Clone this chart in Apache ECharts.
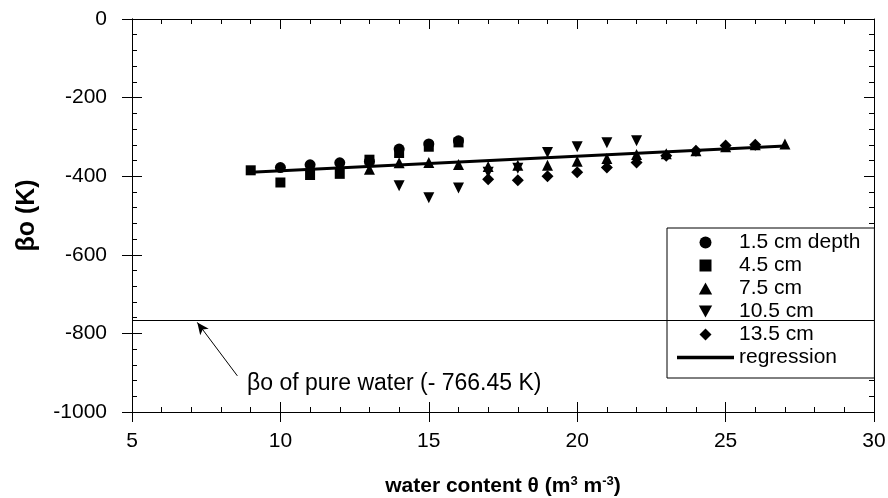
<!DOCTYPE html>
<html>
<head>
<meta charset="utf-8">
<script src="https://cdn.jsdelivr.net/npm/echarts@6/dist/echarts.min.js"></script>
<style>
  html, body { margin: 0; padding: 0; background: #fff; }
  #chart { width: 888px; height: 498px; }
</style>
</head>
<body>
<div id="chart"></div>
<script>
// values (x = water content, y = beta-o in K)
const depth15 = [[10, -378], [11, -371], [12, -366], [13, -362], [14, -331], [15, -318], [16, -310]]
const depth45 = [[9, -385], [10, -416], [11, -397], [12, -394], [13, -358], [14, -341], [15, -325], [16, -314]]
const depth75 = [[13, -382], [14, -366], [15, -365], [16, -370], [17, -375], [18, -372], [19, -372], [20, -362],
  [21, -355], [22, -345], [23, -343], [24, -335], [25, -325], [26, -320], [27, -318]]
const depth105 = [[14, -424], [15, -455], [16, -430], [17, -390], [18, -380], [19, -340], [20, -325], [21, -315], [22, -310]]
const depth135 = [[17, -408], [18, -410], [19, -400], [20, -390], [21, -378], [22, -365], [23, -348], [24, -335],
  [25, -322], [26, -320]]
const regression = [[9, -390], [27, -323]]
const pureWater = -766.45
const arrowFrom = [8.55, -908]
const arrowTo = [7.2, -772]

const font = 'Arial, "Liberation Sans", sans-serif'
const black = '#000'

// marker shapes as paths so legend icons keep their aspect
const SQUARE = 'path://M0,0 H10 V10 H0 Z'
const TRI_UP = 'path://M5,0 L10,9 L0,9 Z'
const TRI_DOWN = 'path://M0,0 L10,0 L5,9 Z'
const DIAMOND = 'path://M5,0 L10,5 L5,10 L0,5 Z'
const BAR = 'path://M0,0 H50 V3 H0 Z'

const chart = echarts.init(document.getElementById('chart'))

function scatter(name, data, symbol, size) {
  return {
    name: name,
    type: 'scatter',
    data: data,
    symbol: symbol,
    symbolSize: size,
    itemStyle: { color: black, opacity: 1 },
    z: 3
  }
}

// axis helpers: same scale, different tick looks, to mimic crossing ticks + mirrored frame
function xAx(extra) {
  return Object.assign({
    type: 'value', min: 5, max: 30, interval: 5,
    axisLine: { show: true, onZero: false, lineStyle: { color: black, width: 1 } },
    splitLine: { show: false },
    axisLabel: { show: false }
  }, extra)
}
function yAx(extra) {
  return Object.assign({
    type: 'value', min: -1000, max: 0, interval: 200,
    axisLine: { show: true, onZero: false, lineStyle: { color: black, width: 1 } },
    splitLine: { show: false },
    axisLabel: { show: false }
  }, extra)
}

const option = {
  backgroundColor: '#fff',
  animation: false,
  textStyle: { fontFamily: font },
  grid: { left: 132, right: 14, top: 19, bottom: 86, outerBoundsMode: 'none', containLabel: false },
  xAxis: [
    xAx({
      position: 'bottom',
      axisTick: { show: true, inside: false, length: 10, lineStyle: { color: black } },
      axisLabel: { show: true, color: black, fontSize: 21, fontFamily: font, margin: 19 },
      name: 'water content θ (m{sup|3} m{sup|-3})',
      nameLocation: 'middle',
      nameGap: 63,
      nameTextStyle: {
        color: black, fontSize: 21, fontWeight: 'bold', fontFamily: font,
        rich: { sup: { fontSize: 13, fontWeight: 'bold', verticalAlign: 'top', padding: [0, 0, 10, 0] } }
      }
    }),
    xAx({
      position: 'bottom',
      axisTick: { show: true, inside: true, length: 10, lineStyle: { color: black } },
      minorTick: { show: true, splitNumber: 5, length: 5, lineStyle: { color: black } }
    }),
    xAx({
      position: 'top',
      axisTick: { show: true, inside: true, length: 10, lineStyle: { color: black } },
      minorTick: { show: true, splitNumber: 5, length: 5, lineStyle: { color: black } }
    })
  ],
  yAxis: [
    yAx({
      position: 'left',
      axisTick: { show: true, inside: false, length: 10, lineStyle: { color: black } },
      axisLabel: { show: true, color: black, fontSize: 21, fontFamily: font, margin: 25,
        formatter: v => String(v) },
      name: 'βo (K)',
      nameLocation: 'middle',
      nameGap: 92,
      nameTextStyle: { color: black, fontSize: 25, fontWeight: 'bold', fontFamily: font }
    }),
    yAx({
      position: 'left',
      axisTick: { show: true, inside: true, length: 10, lineStyle: { color: black } },
      minorTick: { show: true, splitNumber: 5, length: 5, lineStyle: { color: black } }
    }),
    yAx({
      position: 'right',
      axisTick: { show: true, inside: true, length: 10, lineStyle: { color: black } },
      minorTick: { show: true, splitNumber: 5, length: 5, lineStyle: { color: black } }
    })
  ],
  legend: {
    orient: 'vertical',
    left: 667,
    top: 228,
    padding: [4, 14, 10, 10],
    itemWidth: 57,
    itemHeight: 12,
    itemGap: 2,
    backgroundColor: '#fff',
    borderColor: black,
    borderWidth: 1,
    borderRadius: 0,
    textStyle: { color: black, fontSize: 21, fontFamily: font },
    data: [
      { name: '1.5 cm depth', icon: 'circle' },
      { name: '4.5 cm', icon: SQUARE },
      { name: '7.5 cm', icon: TRI_UP },
      { name: '10.5 cm', icon: TRI_DOWN },
      { name: '13.5 cm', icon: DIAMOND },
      { name: 'regression', icon: BAR }
    ]
  },
  series: [
    scatter('1.5 cm depth', depth15, 'circle', 11),
    scatter('4.5 cm', depth45, SQUARE, 10),
    scatter('7.5 cm', depth75, TRI_UP, 11),
    scatter('10.5 cm', depth105, TRI_DOWN, 11),
    scatter('13.5 cm', depth135, DIAMOND, 12),
    {
      name: 'regression',
      type: 'line',
      data: regression,
      symbol: 'none',
      lineStyle: { color: black, width: 3 },
      itemStyle: { color: black },
      z: 4
    },
    {
      name: 'pure water',
      type: 'line',
      data: [],
      markLine: {
        silent: true,
        symbol: ['none', 'none'],
        label: { show: false },
        lineStyle: { color: black, width: 1, type: 'solid' },
        data: [
          { yAxis: pureWater },
          [{ coord: arrowFrom }, { coord: arrowTo, symbol: 'arrow', symbolSize: [8, 12] }]
        ]
      }
    }
  ],
  graphic: [{
    type: 'text',
    left: 247,
    top: 372,
    style: { text: 'βo of pure water (- 766.45 K)', fill: black, fontSize: 23, fontFamily: font }
  }]
}

chart.setOption(option)
</script>
</body>
</html>
